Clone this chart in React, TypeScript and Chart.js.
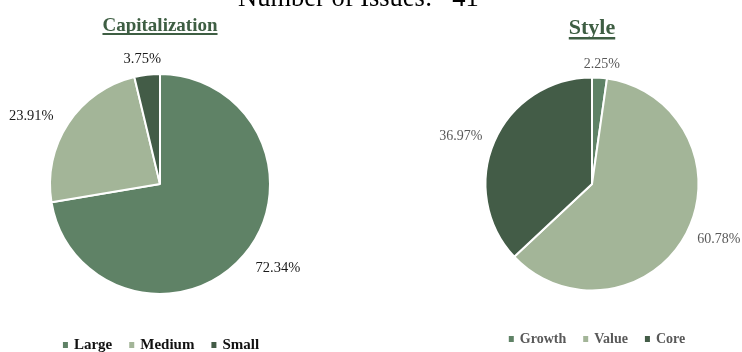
import React, { useEffect, useRef } from "react";
import { Chart, registerables } from "chart.js";

Chart.register(...registerables);

const headerText = "Number of Issues:   41";

const capTitle = "Capitalization";
const capLabels = ["Large", "Medium", "Small"];
const capValues = [72.34, 23.91, 3.75];
const capColors = ["#5f8266", "#a3b598", "#435c47"];

const styleTitle = "Style";
const styleLabels = ["Growth", "Value", "Core"];
const styleValues = [2.25, 60.78, 36.97];
const styleColors = ["#5f8266", "#a3b598", "#435c47"];

type Decor = {
  title: string;
  titleSize: number;
  titleBaseline: number;
  underlineOffset: number;
  underlineThickness: number;
  labelSize: number;
  labelColor: string;
  labelGapX: number;
  labelGapY: number;
  labelDY: number;
  legendSize: number;
  legendColor: string;
  legendY: number;
  legendShift: number;
};

const SERIF = '"Liberation Serif", "Times New Roman", serif';
const TITLE_COLOR = "#3e5e43";

function makeDecor(cfg: Decor) {
  return {
    id: "decor",
    afterDraw(chart: any) {
      const ctx: CanvasRenderingContext2D = chart.ctx;
      const meta = chart.getDatasetMeta(0);
      const arcs = meta.data;
      const ds = chart.data.datasets[0];
      const colors = ds.backgroundColor as string[];
      const labels = chart.data.labels as string[];
      const cx = arcs[0].x;
      ctx.save();
      // title
      ctx.font = `bold ${cfg.titleSize}px ${SERIF}`;
      ctx.fillStyle = TITLE_COLOR;
      ctx.textAlign = "center";
      ctx.textBaseline = "alphabetic";
      ctx.fillText(cfg.title, cx, cfg.titleBaseline);
      const tw = ctx.measureText(cfg.title).width;
      ctx.fillRect(cx - tw / 2, cfg.titleBaseline + cfg.underlineOffset, tw, cfg.underlineThickness);

      // percentage labels
      ctx.font = `${cfg.labelSize}px ${SERIF}`;
      ctx.fillStyle = cfg.labelColor;
      ctx.textBaseline = "middle";
      arcs.forEach((arc: any, i: number) => {
        const p = arc.getProps(["startAngle", "endAngle", "outerRadius", "x", "y"], true);
        const mid = (p.startAngle + p.endAngle) / 2;
        const dx = Math.cos(mid);
        const dy = Math.sin(mid);
        const text = Number(ds.data[i]).toFixed(2) + "%";
        const w = ctx.measureText(text).width;
        const h = cfg.labelSize;
        const lx = p.x + dx * (p.outerRadius + cfg.labelGapX) + (dx * w) / 2;
        const ly = p.y + dy * (p.outerRadius + cfg.labelGapY) + (dy * h) / 2 + cfg.labelDY;
        ctx.fillText(text, lx, ly);
      });

      // legend
      ctx.font = `bold ${cfg.legendSize}px ${SERIF}`;
      ctx.textAlign = "left";
      const marker = 5;
      const markerGap = 6;
      const itemGap = 17;
      const widths = labels.map((l) => ctx.measureText(l).width);
      const total =
        widths.reduce((a, b) => a + b + marker + markerGap, 0) + itemGap * (labels.length - 1);
      let x = cx + cfg.legendShift - total / 2;
      labels.forEach((l, i) => {
        ctx.fillStyle = colors[i];
        ctx.fillRect(x, cfg.legendY - 3, marker, 6);
        x += marker + markerGap;
        ctx.fillStyle = cfg.legendColor;
        ctx.fillText(l, x, cfg.legendY);
        x += widths[i] + itemGap;
      });
      ctx.restore();
    },
  };
}

function PieChart(props: {
  labels: string[];
  values: number[];
  colors: string[];
  radius: number;
  padding: { left: number; right: number; top: number; bottom: number };
  decor: Decor;
}) {
  const ref = useRef<HTMLCanvasElement | null>(null);
  useEffect(() => {
    if (!ref.current) return;
    const chart = new Chart(ref.current, {
      type: "pie",
      data: {
        labels: props.labels,
        datasets: [
          {
            data: props.values,
            backgroundColor: props.colors,
            borderColor: "#ffffff",
            borderWidth: 2,
          },
        ],
      },
      options: {
        responsive: false,
        animation: false,
        events: [],
        radius: props.radius,
        layout: { padding: props.padding },
        plugins: {
          legend: { display: false },
          title: { display: false },
          tooltip: { enabled: false },
        },
      } as any,
      plugins: [makeDecor(props.decor)],
    });
    return () => chart.destroy();
  }, []);
  return <canvas ref={ref} width={371} height={352} style={{ display: "block" }} />;
}

export default function App() {
  return (
    <div
      style={{
        position: "absolute",
        left: 0,
        top: 0,
        width: 742,
        height: 352,
        overflow: "hidden",
        background: "#ffffff",
      }}
    >
      <div style={{ position: "absolute", left: 0, top: 0 }}>
        <PieChart
          labels={capLabels}
          values={capValues}
          colors={capColors}
          radius={110}
          padding={{ left: 0, right: 51, top: 16, bottom: 0 }}
          decor={{
            title: capTitle,
            titleSize: 19,
            titleBaseline: 31,
            underlineOffset: 2,
            underlineThickness: 2,
            labelSize: 14.5,
            labelColor: "#1a1a1a",
            labelGapX: 22,
            labelGapY: 10,
            labelDY: 2,
            legendSize: 15,
            legendColor: "#111111",
            legendY: 345,
            legendShift: 1,
          }}
        />
      </div>
      <div style={{ position: "absolute", left: 371, top: 0 }}>
        <PieChart
          labels={styleLabels}
          values={styleValues}
          colors={styleColors}
          radius={106.5}
          padding={{ left: 100, right: 29, top: 16, bottom: 0 }}
          decor={{
            title: styleTitle,
            titleSize: 22,
            titleBaseline: 34,
            underlineOffset: 3,
            underlineThickness: 2.5,
            labelSize: 14,
            labelColor: "#595959",
            labelGapX: 15,
            labelGapY: 6,
            labelDY: 0,
            legendSize: 14,
            legendColor: "#595959",
            legendY: 339,
            legendShift: 5,
          }}
        />
      </div>
      <div
        style={{
          position: "absolute",
          left: 238,
          top: -16.5,
          fontFamily: SERIF,
          fontSize: 26.5,
          lineHeight: "26.5px",
          whiteSpace: "pre",
          color: "#000000",
        }}
      >
        {headerText}
      </div>
    </div>
  );
}
